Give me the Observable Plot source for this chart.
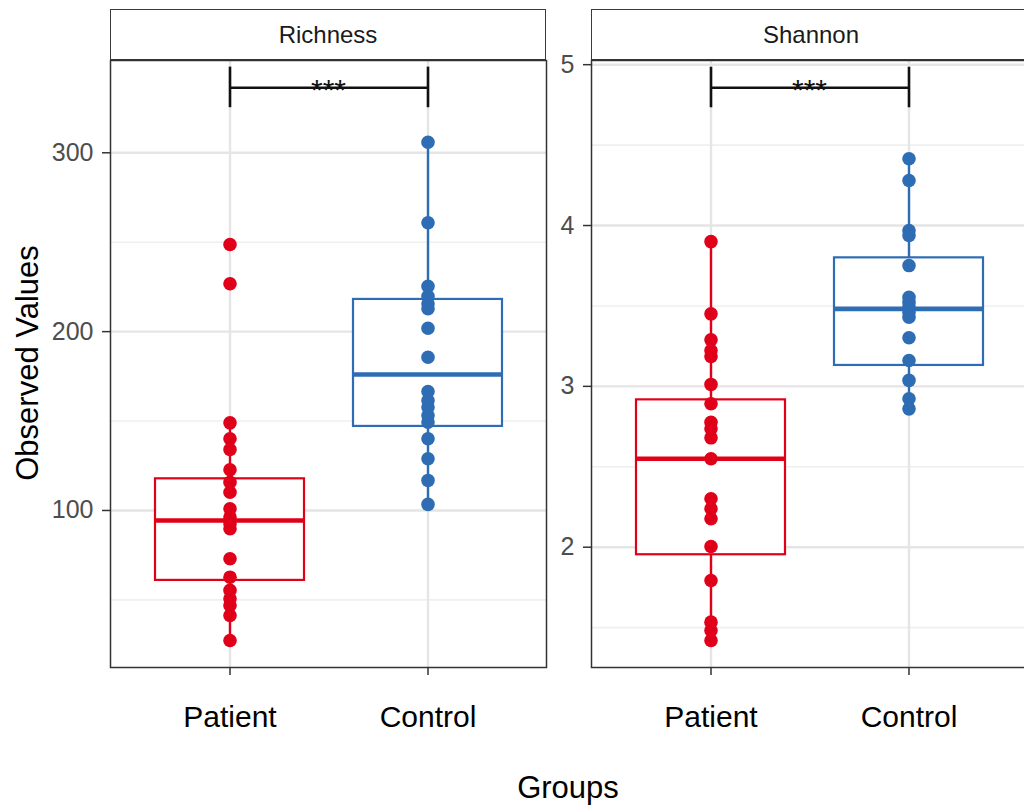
<!DOCTYPE html>
<html>
<head>
<meta charset="utf-8">
<script src="https://cdn.jsdelivr.net/npm/d3@7"></script>
<script src="https://cdn.jsdelivr.net/npm/@observablehq/plot@0.6"></script>
<style>
  html, body { margin: 0; padding: 0; background: #fff; }
  #fig { position: relative; width: 1024px; height: 809px; overflow: hidden;
         font-family: "Liberation Sans", Arial, Helvetica, sans-serif; }
  .panel { position: absolute; top: 0; }
  .strip { position: absolute; top: 9px; height: 52px; box-sizing: border-box;
           border: 1.5px solid #3a3a3a; border-bottom: 2.5px solid #333; background: #fff;
           font-size: 24px; color: #1a1a1a; display: flex; align-items: center; justify-content: center; z-index: 2; }
  .title { position: absolute; font-size: 31px; line-height: 1; color: #000; white-space: nowrap; }
</style>
</head>
<body>
<div id="fig"></div>
<script>
// ---------- data ----------
const groups = ["Patient", "Control"];
const groupColors = ["#E1001A", "#2E6DB4"];

// Richness: individual observations
const richnessPatient = [248.7, 226.8, 149.0, 140.1, 134.1, 122.8, 115.8, 110.2, 101.0, 96.3, 92.6, 89.8, 73.0, 62.7, 55.3, 50.6, 46.9, 41.3, 27.3];
const richnessControl = [305.9, 260.9, 225.4, 219.8, 215.6, 212.8, 201.9, 185.7, 166.5, 161.5, 157.8, 153.1, 149.4, 140.1, 128.9, 116.8, 103.4];
// Richness box statistics [Patient, Control]
const richnessLower  = [27.3, 103.4];
const richnessQ1     = [60.9, 147.0];
const richnessMedian = [94.4, 176.0];
const richnessQ3     = [117.7, 218.0];
const richnessUpper  = [149.0, 305.9];
const richnessMajor = [100, 200, 300];
const richnessMinor = [50, 150, 250];
const richnessDomain = [12.2, 351.6];
const richnessSig = 336.3;
const richnessSigTips = [325.2, 347.9];

// Shannon: individual observations
const shannonPatient = [3.90, 3.451, 3.289, 3.223, 3.186, 3.012, 2.892, 2.777, 2.736, 2.680, 2.55, 2.301, 2.239, 2.177, 2.004, 1.793, 1.534, 1.482, 1.42];
const shannonControl = [4.415, 4.280, 3.969, 3.938, 3.751, 3.554, 3.522, 3.492, 3.461, 3.430, 3.302, 3.161, 3.037, 2.923, 2.860];
const shannonLower  = [1.42, 2.86];
const shannonQ1     = [1.953, 3.130];
const shannonMedian = [2.55, 3.482];
const shannonQ3     = [2.916, 3.799];
const shannonUpper  = [3.90, 4.415];
const shannonMajor = [2, 3, 4, 5];
const shannonMinor = [1.5, 2.5, 3.5, 4.5];
const shannonDomain = [1.252, 5.026];
const shannonSig = 4.856;
const shannonSigTips = [4.732, 4.984];

const sigLabel = "***";
const stripLabels = ["Richness", "Shannon"];
const xTitle = "Groups";
const yTitle = "Observed Values";

const FONT = '"Liberation Sans", Arial, Helvetica, sans-serif';

function panel(cfg) {
  const pts = [
    ...cfg.pat.map(v => ({group: groups[0], value: v})),
    ...cfg.con.map(v => ({group: groups[1], value: v}))
  ];
  const stats = groups.map((g, i) => ({
    group: g, lo: cfg.lower[i], q1: cfg.q1[i], med: cfg.med[i], q3: cfg.q3[i], hi: cfg.upper[i]
  }));
  const bracket = [{a: groups[0], b: groups[1], y: cfg.sig, label: sigLabel}];
  return Plot.plot({
    width: cfg.width, height: 740,
    marginTop: 60, marginBottom: 73, marginLeft: cfg.marginLeft, marginRight: cfg.marginRight,
    style: {background: "transparent", fontFamily: FONT, overflow: "visible"},
    x: {type: "band", domain: groups, paddingInner: 0.25, paddingOuter: 0.225, label: null},
    y: {domain: cfg.domain, label: null},
    color: {domain: groups, range: groupColors},
    marks: [
      Plot.gridY(cfg.minor, {stroke: "#efefef", strokeOpacity: 1, strokeWidth: 1.6}),
      Plot.gridY(cfg.major, {stroke: "#e5e5e5", strokeOpacity: 1, strokeWidth: 2.4}),
      Plot.gridX(groups, {stroke: "#e5e5e5", strokeOpacity: 1, strokeWidth: 2.4}),
      Plot.ruleX(stats, {x: "group", y1: "lo", y2: "hi", stroke: "group", strokeWidth: 2.4}),
      Plot.barY(stats, {x: "group", y1: "q1", y2: "q3", fill: "white", stroke: "group", strokeWidth: 2.2}),
      Plot.tickY(stats, {x: "group", y: "med", stroke: "group", strokeWidth: 4.6}),
      Plot.dot(pts, {x: "group", y: "value", r: 6.8, fill: "group"}),
      Plot.link(bracket, {x1: d => d.a, x2: d => d.b, y1: d => d.y, y2: d => d.y, stroke: "#111", strokeWidth: 2.5}),
      Plot.ruleX(groups, {x: d => d, y1: () => cfg.tips[0], y2: () => cfg.tips[1], stroke: "#111", strokeWidth: 2.6}),
      Plot.text(bracket, {y: d => d.y, text: d => d.label, frameAnchor: "middle", fontSize: 30, dy: 3, fill: "#111"}),
      Plot.frame({stroke: "#333", strokeWidth: 1.5}),
      Plot.axisY(cfg.major, {tickSize: 8, tickPadding: 9, fontSize: 25, fill: "#4d4d4d", stroke: "#333", strokeWidth: 1.5, label: null, tickFormat: d => String(d)}),
      Plot.axisX({tickSize: 8, tickPadding: 30, fontSize: 30, fill: "#000", stroke: "#333", strokeWidth: 1.5, label: null})
    ]
  });
}

const fig = document.getElementById("fig");

const left = panel({
  pat: richnessPatient, con: richnessControl,
  lower: richnessLower, q1: richnessQ1, med: richnessMedian, q3: richnessQ3, upper: richnessUpper,
  major: richnessMajor, minor: richnessMinor, domain: richnessDomain,
  sig: richnessSig, tips: richnessSigTips,
  width: 548, marginLeft: 110, marginRight: 2
});
left.classList.add("panel");
left.style.left = "0px";
fig.appendChild(left);

const right = panel({
  pat: shannonPatient, con: shannonControl,
  lower: shannonLower, q1: shannonQ1, med: shannonMedian, q3: shannonQ3, upper: shannonUpper,
  major: shannonMajor, minor: shannonMinor, domain: shannonDomain,
  sig: shannonSig, tips: shannonSigTips,
  width: 482, marginLeft: 46, marginRight: 0
});
right.classList.add("panel");
right.style.left = "545px";
fig.appendChild(right);

// facet strips
[[110, 436], [591, 440]].forEach(([x, w], i) => {
  const s = document.createElement("div");
  s.className = "strip";
  s.style.left = x + "px";
  s.style.width = w + "px";
  s.textContent = stripLabels[i];
  fig.appendChild(s);
});

// axis titles
const xt = document.createElement("div");
xt.className = "title";
xt.textContent = xTitle;
xt.style.left = "568px";
xt.style.top = "772px";
xt.style.transform = "translateX(-50%)";
fig.appendChild(xt);

const yt = document.createElement("div");
yt.className = "title";
yt.textContent = yTitle;
yt.style.left = "27px";
yt.style.top = "363px";
yt.style.transform = "translate(-50%,-50%) rotate(-90deg)";
fig.appendChild(yt);
</script>
</body>
</html>
